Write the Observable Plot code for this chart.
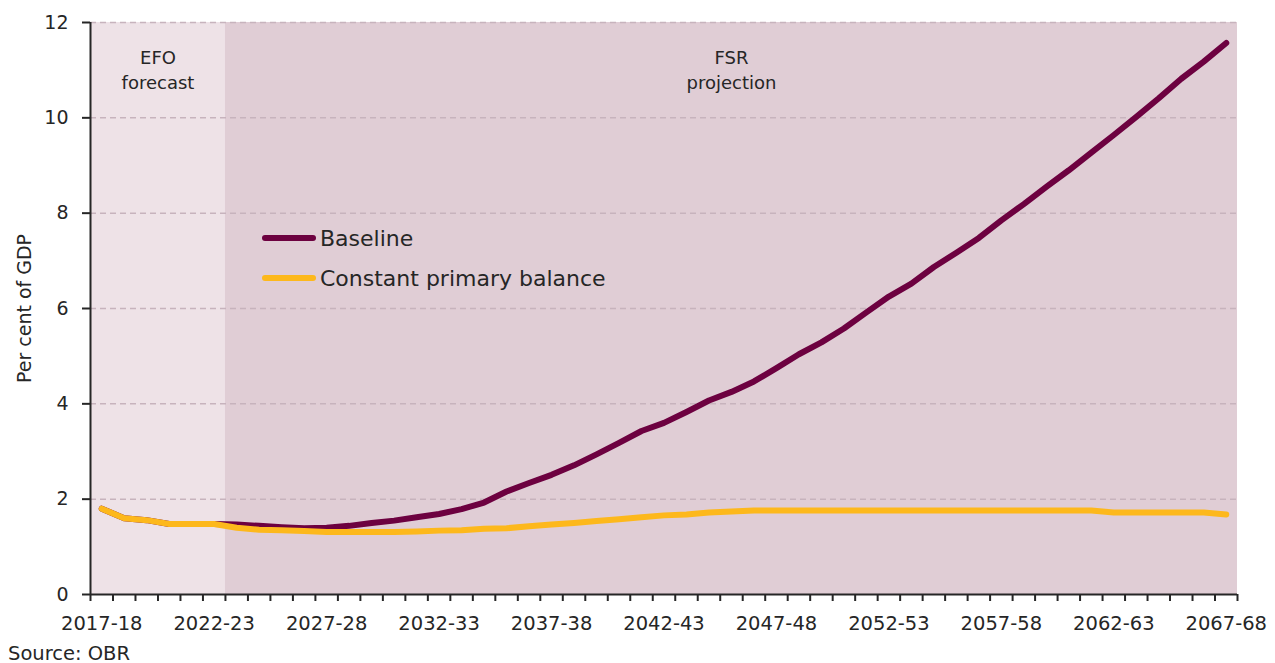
<!DOCTYPE html>
<html><head><meta charset="utf-8">
<script src="https://cdn.jsdelivr.net/npm/d3@7"></script>
<script src="https://cdn.jsdelivr.net/npm/@observablehq/plot@0.6"></script>
<style>
body{margin:0;background:#fff;font-family:"DejaVu Sans",sans-serif;color:#262626}
#wrap{position:relative;width:1275px}
#legend{position:absolute;left:262px;top:218px;font-size:22px}
.item{display:flex;align-items:center;height:40px}
.sw{width:54px;height:6px;border-radius:3px;margin-right:4px}
#caption{font-size:19.5px;margin-left:8px;line-height:22px}
</style></head><body>
<div id="wrap"><div id="chart"></div><div id="legend"></div></div>
<div id="caption">Source: OBR</div>
<script>
const years = ["2017-18","2018-19","2019-20","2020-21","2021-22","2022-23","2023-24","2024-25","2025-26","2026-27",
"2027-28","2028-29","2029-30","2030-31","2031-32","2032-33","2033-34","2034-35","2035-36","2036-37",
"2037-38","2038-39","2039-40","2040-41","2041-42","2042-43","2043-44","2044-45","2045-46","2046-47",
"2047-48","2048-49","2049-50","2050-51","2051-52","2052-53","2053-54","2054-55","2055-56","2056-57",
"2057-58","2058-59","2059-60","2060-61","2061-62","2062-63","2063-64","2064-65","2065-66","2066-67","2067-68"];
const baseline = [1.80,1.60,1.56,1.48,1.48,1.48,1.47,1.44,1.41,1.39,
1.40,1.44,1.50,1.55,1.62,1.69,1.79,1.93,2.16,2.34,
2.51,2.71,2.94,3.18,3.43,3.60,3.83,4.07,4.25,4.47,
4.75,5.04,5.29,5.58,5.92,6.25,6.52,6.87,7.17,7.48,
7.85,8.19,8.55,8.90,9.27,9.64,10.02,10.41,10.82,11.18,11.57];
const constantPrimary = [1.80,1.60,1.56,1.48,1.48,1.48,1.40,1.36,1.35,1.33,
1.31,1.31,1.31,1.31,1.32,1.34,1.35,1.38,1.39,1.43,
1.47,1.50,1.54,1.58,1.62,1.66,1.68,1.72,1.74,1.76,
1.76,1.76,1.76,1.76,1.76,1.76,1.76,1.76,1.76,1.76,
1.76,1.76,1.76,1.76,1.76,1.72,1.72,1.72,1.72,1.72,1.68];
const seriesNames = ["Baseline","Constant primary balance"];
const seriesColors = ["#6d0140","#fdb81c"];
const periodLabels = ["EFO\nforecast","FSR\nprojection"];
const periodFirst = ["2017-18","2023-24"];
const periodLast = ["2022-23","2067-68"];
const periodFills = ["#eee2e7","#e0cdd5"];
const yTicks = [0,2,4,6,8,10,12];
const xLabelYears = ["2017-18","2022-23","2027-28","2032-33","2037-38","2042-43","2047-48","2052-53","2057-58","2062-63","2067-68"];

const rows = [];
seriesNames.forEach((s,k)=>{
  const vals = k===0 ? baseline : constantPrimary;
  years.forEach((y,i)=>rows.push({i, year:y, v:vals[i], s}));
});
const periodRows = periodLabels.map((label,k)=>({label, x1: years.indexOf(periodFirst[k])-0.5, x2: years.indexOf(periodLast[k])+0.5}));
const boundaries = d3.range(years.length+1).map(k=>k-0.5);
const labelIdx = xLabelYears.map(y=>years.indexOf(y));
const ink = "#262626";

const plot = Plot.plot({
  width:1275, height:643, marginLeft:90, marginRight:38, marginTop:22, marginBottom:49,
  style:{fontFamily:"'DejaVu Sans', sans-serif", fontSize:"19px", color:ink, background:"transparent", overflow:"visible"},
  x:{type:"linear", domain:[-0.5, years.length-0.5]},
  y:{domain:[0,12]},
  color:{domain:seriesNames, range:seriesColors},
  marks:[
    ...periodRows.map((p,k)=>Plot.rect([p],{x1:"x1",x2:"x2",y1:0,y2:12,fill:periodFills[k]})),
    Plot.ruleY(yTicks.filter(v=>v>0),{stroke:"#c7b3bd",strokeWidth:1.5,strokeDasharray:"6,4"}),
    Plot.text(periodRows,{x:d=>(d.x1+d.x2)/2,y:12,text:"label",lineAnchor:"top",dy:23,lineHeight:1.42,fontSize:18,fill:ink}),
    Plot.line(rows,{x:"i",y:"v",stroke:"s",z:"s",strokeWidth:6,strokeLinecap:"round",strokeLinejoin:"round"}),
    Plot.axisY(yTicks,{tickSize:8,tickPadding:14,fontSize:19,strokeWidth:2,stroke:ink,label:"Per cent of GDP",labelAnchor:"center",labelArrow:"none",labelOffset:73}),
    Plot.axisX(boundaries,{tickSize:7,tickFormat:()=>"",strokeWidth:2,stroke:ink,label:null}),
    Plot.axisX(labelIdx,{tickSize:0,tickPadding:22,tickFormat:i=>years[i],fontSize:19.5,label:null}),
    Plot.ruleY([0],{stroke:ink,strokeWidth:2}),
    Plot.ruleX([-0.5],{stroke:ink,strokeWidth:2})
  ]
});
document.getElementById("chart").appendChild(plot);

const lg = document.getElementById("legend");
seriesNames.forEach((n,k)=>{
  const it = document.createElement("div"); it.className="item";
  const sw = document.createElement("span"); sw.className="sw"; sw.style.background=seriesColors[k];
  const tx = document.createElement("span"); tx.textContent=n;
  it.appendChild(sw); it.appendChild(tx); lg.appendChild(it);
});
</script>
</body></html>
